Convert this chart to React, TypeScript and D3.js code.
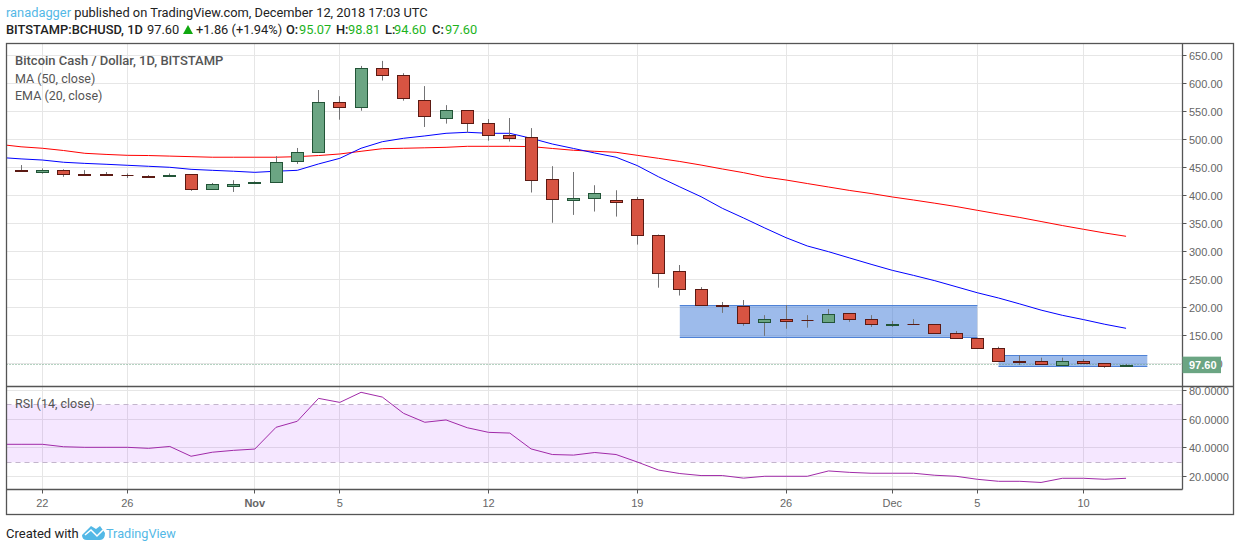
import { useEffect, useRef } from "react"
import * as d3 from "d3"

const days = [
  "Oct 20", "Oct 21", "Oct 22", "Oct 23", "Oct 24", "Oct 25", "Oct 26", "Oct 27", "Oct 28", "Oct 29", "Oct 30", "Oct 31",
  "Nov 1", "Nov 2", "Nov 3", "Nov 4", "Nov 5", "Nov 6", "Nov 7", "Nov 8", "Nov 9", "Nov 10", "Nov 11", "Nov 12", "Nov 13", "Nov 14", "Nov 15",
  "Nov 16", "Nov 17", "Nov 18", "Nov 19", "Nov 20", "Nov 21", "Nov 22", "Nov 23", "Nov 24", "Nov 25", "Nov 26", "Nov 27", "Nov 28", "Nov 29", "Nov 30",
  "Dec 1", "Dec 2", "Dec 3", "Dec 4", "Dec 5", "Dec 6", "Dec 7", "Dec 8", "Dec 9", "Dec 10", "Dec 11", "Dec 12", "Dec 13",
]

// candles start on Oct 21
const opens = [445, 442.5, 444.6, 438, 438, 436, 434, 435, 437.5, 412, 417, 422, 423, 460.7, 477, 566, 557, 627, 614, 571, 537.5, 552, 528.6, 507, 503.6, 428.6, 391, 396, 391, 393, 330, 264, 232, 204, 202, 174, 180, 177, 174, 189, 178.6, 168, 171, 169.6, 155, 145, 127, 104, 105, 97.5, 105, 100, 95.07]
const highs = [454, 448, 446.4, 445, 441.6, 439, 436, 439, 438, 422, 427, 425, 470, 484.5, 588, 577, 631, 640, 618, 595, 561, 552, 536, 538, 520, 452, 441.6, 418, 409, 397, 330, 275.5, 236, 209.5, 213, 186, 204, 186, 197, 189, 186, 175.6, 179, 170, 157.7, 145.5, 129.6, 114, 110, 110, 107.6, 100.5, 98.81]
const lows = [442, 438.6, 433, 437, 434.5, 431, 432.6, 432.6, 408, 412, 406, 420, 423, 456, 477, 535, 551, 605, 569, 522, 528, 512, 497.5, 496, 405, 351, 365, 371, 362, 312, 235, 221, 203, 190, 167, 149, 161.7, 163.6, 174, 174, 165, 165, 169, 155, 146, 127, 103, 97, 98, 97, 99, 92, 94.6]
const closes = [444, 445, 437.5, 437, 436, 435.5, 433.5, 436, 412, 419.7, 421, 423, 459, 477, 566, 557, 627, 614, 573, 541, 552, 528.6, 507, 503, 427, 393, 396, 403.6, 387.5, 330, 261, 232, 203.6, 203, 172.5, 180, 176, 176.5, 187.5, 178.6, 169.6, 169.5, 170, 155, 146, 127, 103.6, 103, 98, 105, 101, 95, 97.6]

// the three lines start on Oct 20, one step left of the plot
const ma50 = [490.9, 486.6, 484, 480, 475, 473, 471.4, 471, 470, 469, 468, 468, 468, 468, 469, 471, 473.8, 478.6, 483.2, 484, 484.8, 485.7, 487.5, 487.5, 487.5, 487, 483.6, 480.4, 478.6, 476.8, 471.4, 466, 460.4, 454, 447, 440.4, 432.7, 427.3, 421, 414.8, 408.6, 403.2, 397, 391.6, 385.9, 380, 373.2, 366.6, 360.4, 353.2, 346, 339.3, 332.7, 326.8]
const ema20 = [467.6, 465, 463, 459, 457, 455.4, 453.6, 451.8, 450, 446.4, 444.6, 443, 441, 443, 444.6, 456, 466, 484, 495.7, 501.8, 506, 510.7, 512.5, 510.7, 510.7, 501.8, 491.6, 483.6, 475.5, 468, 453, 433, 415, 397.5, 376.8, 359.5, 341.6, 324.3, 309.5, 299.3, 288, 276.8, 266, 257, 247.5, 236.8, 226, 216.6, 206, 195, 185.7, 178, 169.7, 162.5]
const rsi14 = [42.5, 42.5, 42.5, 40.8, 40.4, 40.4, 40.4, 39.7, 41, 34.2, 37, 38.3, 39.2, 54.3, 58.5, 74.4, 71.6, 78.6, 75.3, 64, 57.8, 59.4, 54, 50.8, 50.3, 39.3, 35.4, 35, 36.8, 35.4, 30.2, 24.6, 22.2, 20.8, 20.8, 19, 20.3, 20.3, 20.3, 24, 23, 22.4, 22.4, 22.4, 21, 20.3, 18.2, 16.8, 16.8, 16, 18.9, 18.9, 18.2, 18.9]

const priceTicks = [650, 600, 550, 500, 450, 400, 350, 300, 250, 200, 150, 100]
const rsiTicks = [80, 60, 40, 20]
const timeTicks = [
  { day: "Oct 22", label: "22" },
  { day: "Oct 26", label: "26" },
  { day: "Nov 1", label: "Nov", bold: true },
  { day: "Nov 5", label: "5" },
  { day: "Nov 12", label: "12" },
  { day: "Nov 19", label: "19" },
  { day: "Nov 26", label: "26" },
  { day: "Dec 1", label: "Dec" },
  { day: "Dec 5", label: "5" },
  { day: "Dec 10", label: "10" },
]
const boxes = [
  { from: "Nov 21", to: "Dec 5", top: 203.6, bottom: 146.5 },
  { from: "Dec 6", to: "Dec 13", top: 114, bottom: 94 },
]
const lastPrice = 97.6

const UP = "#6ba583"
const DOWN = "#d75442"
const UP_BORDER = "#225437"
const DOWN_BORDER = "#5b1a13"
const FRAME = "#555555"
const GRID = "#e6e6e6"
const BLUE_TEXT = "#53b8e6"
const UI_FONT = "Roboto, sans-serif"
const AXIS_FONT = "'Liberation Sans', Arial, sans-serif"

export default function App() {
  const svgRef = useRef<SVGSVGElement>(null)

  useEffect(() => {
    if (!svgRef.current) return
    const svg = d3.select(svgRef.current)
    svg.selectAll("*").remove()

    const left = 6.5
    const axisX = 1182.5
    const right = 1233.5
    const top = 43.5
    const split = 386.5
    const bottom = 489.5
    const outerBottom = 514.5

    const x = d3.scalePoint<string>().domain(days).range([-0.2, 1147.3])
    const y = d3.scaleLinear().domain([650, 150]).range([55.3, 335.3])
    const yRsi = d3.scaleLinear().domain([80, 20]).range([390.3, 476.7])
    const snap = (v: number) => Math.round(v - 0.5) + 0.5
    const px = (d: string) => x(d) as number

    const defs = svg.append("defs")
    defs.append("clipPath").attr("id", "price-clip").append("rect")
      .attr("x", left).attr("y", top).attr("width", axisX - left).attr("height", split - top)
    defs.append("clipPath").attr("id", "rsi-clip").append("rect")
      .attr("x", left).attr("y", split).attr("width", axisX - left).attr("height", bottom - split)

    // grid
    const grid = svg.append("g").attr("stroke", GRID).attr("stroke-width", 1)
    timeTicks.forEach((t) => {
      grid.append("line").attr("x1", snap(px(t.day))).attr("x2", snap(px(t.day))).attr("y1", top).attr("y2", bottom)
    })
    priceTicks.forEach((p) => {
      grid.append("line").attr("x1", left).attr("x2", axisX).attr("y1", snap(y(p))).attr("y2", snap(y(p)))
    })
    rsiTicks.forEach((p) => {
      grid.append("line").attr("x1", left).attr("x2", axisX).attr("y1", snap(yRsi(p))).attr("y2", snap(yRsi(p)))
    })

    // price pane
    const price = svg.append("g").attr("clip-path", "url(#price-clip)")

    boxes.forEach((b) => {
      price.append("rect")
        .attr("x", px(b.from)).attr("width", px(b.to) - px(b.from))
        .attr("y", y(b.top)).attr("height", y(b.bottom) - y(b.top))
        .attr("fill", "rgba(60,120,216,0.5)")
      ;[b.top, b.bottom].forEach((edge) => {
        price.append("line").attr("x1", px(b.from)).attr("x2", px(b.to)).attr("y1", snap(y(edge))).attr("y2", snap(y(edge)))
          .attr("stroke", "#4f82d6").attr("stroke-width", 1.2)
      })
    })

    const priceLine = d3.line<number>().x((_, i) => px(days[i])).y((d) => y(d))
    price.append("path").attr("d", priceLine(ma50)).attr("fill", "none").attr("stroke", "#ff0000").attr("stroke-width", 1)
    price.append("path").attr("d", priceLine(ema20)).attr("fill", "none").attr("stroke", "#0000ff").attr("stroke-width", 1)

    price.append("line")
      .attr("x1", left).attr("x2", axisX).attr("y1", snap(y(lastPrice))).attr("y2", snap(y(lastPrice)))
      .attr("stroke", UP).attr("stroke-dasharray", "1 2")

    const candleDays = days.slice(1, opens.length + 1)
    candleDays.forEach((day, i) => {
      const cx = snap(px(day))
      const up = closes[i] >= opens[i]
      const yTop = Math.round(y(Math.max(opens[i], closes[i]))) + 0.5
      const yBottom = Math.round(y(Math.min(opens[i], closes[i]))) + 0.5
      const border = up ? UP_BORDER : DOWN_BORDER
      price.append("line").attr("x1", cx).attr("x2", cx).attr("y1", y(highs[i])).attr("y2", y(lows[i]))
        .attr("stroke", "#737375").attr("stroke-width", 1)
      if (yBottom - yTop < 1) {
        // doji, the body closes up into a single line
        price.append("line").attr("x1", cx - 6).attr("x2", cx + 6).attr("y1", yTop).attr("y2", yTop).attr("stroke", border)
      } else {
        price.append("rect")
          .attr("x", cx - 6).attr("width", 12)
          .attr("y", yTop).attr("height", yBottom - yTop)
          .attr("fill", up ? UP : DOWN)
          .attr("stroke", border)
          .attr("stroke-width", 1)
      }
    })

    // rsi pane
    const rsi = svg.append("g").attr("clip-path", "url(#rsi-clip)")
    rsi.append("rect")
      .attr("x", left).attr("width", axisX - left)
      .attr("y", yRsi(70)).attr("height", yRsi(30) - yRsi(70))
      .attr("fill", "rgba(153,21,255,0.1)")
    ;[70, 30].forEach((v) => {
      rsi.append("line").attr("x1", left).attr("x2", axisX).attr("y1", snap(yRsi(v))).attr("y2", snap(yRsi(v)))
        .attr("stroke", "#c3b5cc").attr("stroke-dasharray", "5 4")
    })
    const rsiLine = d3.line<number>().x((_, i) => px(days[i])).y((d) => yRsi(d))
    rsi.append("path").attr("d", rsiLine(rsi14)).attr("fill", "none").attr("stroke", "#a02aa8").attr("stroke-width", 1)

    // frame
    const frame = svg.append("g").attr("stroke", FRAME).attr("stroke-width", 1.3).attr("fill", "none")
    frame.append("rect").attr("x", left).attr("y", top).attr("width", right - left).attr("height", outerBottom - top)
    frame.append("line").attr("x1", left).attr("x2", right).attr("y1", split).attr("y2", split)
    frame.append("line").attr("x1", left).attr("x2", axisX).attr("y1", bottom).attr("y2", bottom)
    frame.append("line").attr("x1", axisX).attr("x2", axisX).attr("y1", top).attr("y2", bottom)

    // axis labels
    const axis = svg.append("g").attr("font-family", AXIS_FONT).attr("font-size", 11).attr("fill", "#666666")
    const tickMark = (x1: number, y1: number, x2: number, y2: number) =>
      svg.append("line").attr("x1", x1).attr("y1", y1).attr("x2", x2).attr("y2", y2).attr("stroke", FRAME)
    priceTicks.forEach((p) => {
      tickMark(axisX, snap(y(p)), axisX + 4, snap(y(p)))
      axis.append("text").attr("x", 1189).attr("y", y(p) + 4.5).text(d3.format(".2f")(p))
    })
    rsiTicks.forEach((p) => {
      tickMark(axisX, snap(yRsi(p)), axisX + 4, snap(yRsi(p)))
      axis.append("text").attr("x", 1189).attr("y", yRsi(p) + 4.5).text(d3.format(".4f")(p))
    })
    timeTicks.forEach((t) => {
      tickMark(snap(px(t.day)), bottom, snap(px(t.day)), bottom + 4)
      axis.append("text").attr("x", px(t.day)).attr("y", 507).attr("text-anchor", "middle")
        .attr("font-weight", t.bold ? "bold" : "normal").text(t.label)
    })

    // last price badge
    const badgeY = y(lastPrice)
    svg.append("rect").attr("x", axisX).attr("y", badgeY - 8).attr("width", 38.5).attr("height", 16.5).attr("fill", UP)
    svg.append("text").attr("x", 1189).attr("y", badgeY + 4.5)
      .attr("font-family", AXIS_FONT).attr("font-size", 11).attr("font-weight", "bold").attr("fill", "#ffffff")
      .text(d3.format(".2f")(lastPrice))

    // pane legends
    const legend = svg.append("g").attr("font-family", UI_FONT).attr("font-size", 12.5).attr("fill", "#555555")
    legend.append("text").attr("x", 15).attr("y", 65).attr("font-size", 13).attr("font-weight", 500).text("Bitcoin Cash / Dollar, 1D, BITSTAMP")
    legend.append("text").attr("x", 15).attr("y", 82.5).text("MA (50, close)")
    legend.append("text").attr("x", 15).attr("y", 99.5).text("EMA (20, close)")
    legend.append("text").attr("x", 15).attr("y", 408).text("RSI (14, close)")

    // header
    const header = svg.append("g").attr("font-family", UI_FONT).attr("font-size", 12.85).attr("fill", "#222222")
    const line1 = header.append("text").attr("x", 6).attr("y", 17)
    line1.append("tspan").attr("fill", BLUE_TEXT).text("ranadagger")
    line1.append("tspan").text(" published on TradingView.com, December 12, 2018 17:03 UTC")
    header.append("text").attr("x", 6).attr("y", 34).attr("font-weight", 500).text("BITSTAMP:BCHUSD, 1D")
    header.append("text").attr("x", 147).attr("y", 34).text("97.60")
    header.append("path").attr("d", "M183,34 L188,25 L193,34 Z").attr("fill", "#10a810")
    header.append("text").attr("x", 196).attr("y", 34).text("+1.86 (+1.94%)")
    const ohlc = [
      { key: "O:", keyX: 286, value: "95.07", valueX: 299 },
      { key: "H:", keyX: 336, value: "98.81", valueX: 348 },
      { key: "L:", keyX: 385, value: "94.60", valueX: 394 },
      { key: "C:", keyX: 432, value: "97.60", valueX: 445 },
    ]
    ohlc.forEach((o) => {
      header.append("text").attr("x", o.keyX).attr("y", 34).attr("font-weight", 500).text(o.key)
      header.append("text").attr("x", o.valueX).attr("y", 34).attr("fill", "#1db31d").text(o.value)
    })

    // footer
    const footer = svg.append("g").attr("font-family", UI_FONT).attr("font-size", 13)
    footer.append("text").attr("x", 6).attr("y", 538).attr("fill", "#222222").text("Created with")
    footer.append("path")
      .attr("d", "M82,535 L91,526 L96,529 L100,526 L105,533 Q105,540 100,540 L87,540 Q82,540 82,535 Z")
      .attr("fill", BLUE_TEXT)
    footer.append("path").attr("d", "M85,535 L91,530 L97,536 L103,530").attr("fill", "none").attr("stroke", "#ffffff").attr("stroke-width", 1.5)
    footer.append("text").attr("x", 106).attr("y", 538).attr("font-size", 12.7).attr("fill", BLUE_TEXT).text("TradingView")
  }, [])

  return (
    <svg
      ref={svgRef}
      width={1240}
      height={551}
      viewBox="0 0 1240 551"
      style={{ position: "absolute", left: 0, top: 0, background: "#ffffff" }}
    />
  )
}
